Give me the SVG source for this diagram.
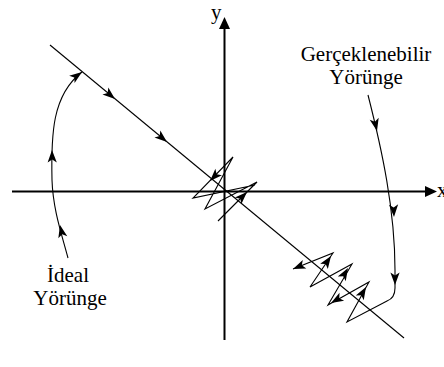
<svg xmlns="http://www.w3.org/2000/svg" xmlns:xlink="http://www.w3.org/1999/xlink" width="444" height="367" viewBox="0 0 444 367">
<style>
.ln{fill:none;stroke:#000;stroke-width:1.1;stroke-linejoin:miter}
.ax{fill:none;stroke:#000;stroke-width:2}
.t{font-family:"Liberation Serif","Times New Roman",serif;font-size:21px;fill:#000}
.ah{fill:#000}
</style>
<defs>
<path id="ah" d="M0,0 L-12.5,-4.6 L-9.5,0 L-12.5,4.6 Z"/>
<path id="axh" d="M0,0 L-12,-5.5 L-12,5.5 Z"/>
</defs>
<g id="axes">
<line class="ax" x1="12" y1="191.5" x2="427" y2="191.5"/>
<line class="ax" x1="224.5" y1="340" x2="224.5" y2="27"/>
<use href="#axh" transform="translate(437,191.5)"/>
<use href="#axh" transform="translate(224.5,17) rotate(-90)"/>
<text class="t" x="211" y="19">y</text>
<text class="t" x="437" y="197">x</text>
</g>
<g id="connectors">
<line class="ln" x1="50" y1="45" x2="404" y2="338"/>
<use class="ah" href="#ah" transform="translate(115,99) rotate(39.7)"/>
<use class="ah" href="#ah" transform="translate(167,142) rotate(39.7)"/>
<path class="ln" d="M68,258 C62,235 53,210 52,180 C51,135 52,95 82,72"/>
<use class="ah" href="#ah" transform="translate(82,72) rotate(-36)"/>
<use class="ah" href="#ah" transform="translate(52,150) rotate(-91)"/>
<use class="ah" href="#ah" transform="translate(60,225) rotate(-103)"/>
<path class="ln" d="M368,95 C382,150 395,210 395,270 L395,288 Q395,298 387,301 L347,322 L369,282 L328,305 L352,264 L310,287 L333,253 L293,269"/>
<use class="ah" href="#ah" transform="translate(377,131) rotate(77)"/>
<use class="ah" href="#ah" transform="translate(394,217) rotate(88)"/>
<use class="ah" href="#ah" transform="translate(395,285) rotate(90)"/>
<use class="ah" href="#ah" transform="translate(293,269) rotate(157.5)"/>
<use class="ah" href="#ah" transform="translate(331,256) rotate(-56)"/>
<use class="ah" href="#ah" transform="translate(331,303) rotate(150)"/>
<use class="ah" href="#ah" transform="translate(348,268) rotate(-60)"/>
<use class="ah" href="#ah" transform="translate(366,287) rotate(-60)"/>
<path class="ln" d="M218,221 L257,182 L205,209 L233,157 L193,198 L255,185"/>
<use class="ah" href="#ah" transform="translate(247,192) rotate(-45)"/>
<use class="ah" href="#ah" transform="translate(210,181) rotate(134)"/>
</g>
<g id="ideal-label">
<text class="t" x="68" y="282" text-anchor="middle">İdeal</text>
<text class="t" x="70" y="305" text-anchor="middle">Yörünge</text>
</g>
<g id="real-label">
<text class="t" x="366" y="61" text-anchor="middle">Gerçeklenebilir</text>
<text class="t" x="366" y="84" text-anchor="middle">Yörünge</text>
</g>
</svg>
